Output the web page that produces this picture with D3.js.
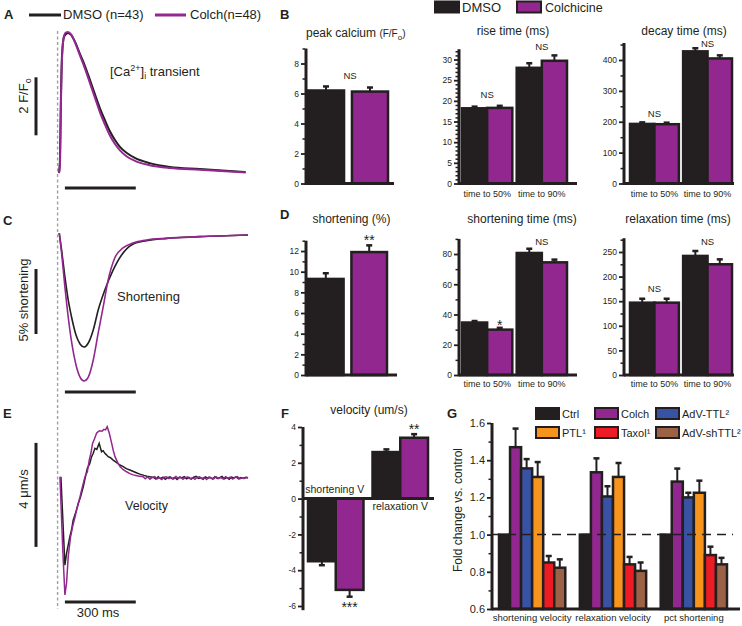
<!DOCTYPE html>
<html>
<head>
<meta charset="utf-8">
<script src="https://cdn.jsdelivr.net/npm/d3@7/dist/d3.min.js"></script>
<style>
html,body{margin:0;padding:0;background:#fff;}
svg{display:block;}
</style>
</head>
<body>
<svg id="chart" width="742" height="626"></svg>
<script>
// ================= DATA =================
// Traces: [time (ms), value]
const caDMSO = [[0,1.00],[4,1.45],[8,3.55],[13,5.10],[21,5.69],[30,5.79],[38,5.83],[51,5.76],[68,5.52],[89,5.10],[110,4.69],[131,4.21],[152,3.72],[173,3.24],[194,2.83],[215,2.45],[237,2.14],[258,1.90],[287,1.69],[321,1.52],[384,1.34],[469,1.21],[596,1.14],[790,1.03]];
const caColch = [[0,1.00],[4,1.30],[8,3.30],[13,5.00],[21,5.72],[30,5.85],[38,5.86],[51,5.78],[68,5.50],[89,5.05],[110,4.60],[131,4.10],[152,3.60],[173,3.10],[194,2.68],[215,2.30],[237,2.00],[258,1.78],[287,1.57],[321,1.42],[384,1.27],[469,1.17],[596,1.11],[790,1.02]];
const shortDMSO = [[1,0],[11,-1.31],[25,-3.38],[39,-5.15],[54,-6.54],[72,-7.85],[89,-8.54],[106,-8.77],[124,-8.46],[145,-7.46],[166,-5.92],[194,-4.38],[229,-2.85],[265,-1.69],[307,-0.92],[370,-0.59],[455,-0.41],[595,-0.28],[800,-0.15]];
const shortColch = [[1,0],[11,-1.54],[25,-4.15],[39,-6.46],[54,-8.46],[72,-10.15],[89,-11.08],[106,-11.38],[124,-11.08],[145,-9.77],[166,-7.69],[187,-5.69],[208,-3.62],[236,-1.92],[271,-1.15],[313,-0.77],[370,-0.54],[455,-0.41],[595,-0.28],[800,-0.15]];
const velDMSOTrace = [[8,0.05],[25,-3.35],[32,-2.90],[46,-2.26],[53,-2.0],[60,-1.62],[70,-1.35],[82,-0.97],[92,-0.70],[103,-0.33],[112,0.05],[120,0.37],[130,0.55],[138,0.82],[145,0.95],[152,1.14],[160,1.10],[170,1.33],[180,1.01],[187,1.05],[194,0.95],[200,0.90],[208,0.82],[218,0.78],[229,0.69],[240,0.62],[258,0.50],[270,0.45],[285,0.36],[300,0.31],[315,0.25],[330,0.19],[342,0.15],[360,0.10],[372,0.07],[384,0.05],[400,0.02],[410,-0.04],[420,0.05],[430,-0.02],[440,0.03],[450,-0.05],[460,0.01],[470,0.04],[480,-0.03],[490,0.02],[500,-0.06],[510,0.03],[520,0.00],[530,0.05],[540,-0.03],[550,0.02],[560,-0.04],[570,0.03],[580,0.06],[590,-0.02],[600,0.01],[610,-0.05],[620,0.04],[630,-0.01],[640,0.02],[650,-0.04],[660,0.05],[670,-0.02],[680,0.01],[690,0.06],[700,-0.03],[710,0.02],[720,-0.05],[730,0.03],[740,0.00],[750,0.04],[760,-0.03],[770,0.02],[780,-0.02],[790,0.03],[800,0.00]];
const velColchTrace = [[4,0.05],[16,-2.77],[25,-4.50],[32,-4.04],[39,-3.03],[49,-2.26],[58,-1.85],[68,-1.49],[78,-1.10],[89,-0.72],[100,-0.30],[110,0.05],[120,0.24],[128,0.69],[135,0.95],[142,1.33],[150,1.50],[159,1.72],[166,1.78],[173,1.82],[182,1.80],[190,1.87],[197,1.85],[204,1.97],[213,1.72],[223,1.33],[230,1.05],[237,0.82],[248,0.60],[258,0.44],[272,0.32],[286,0.24],[300,0.17],[314,0.12],[335,0.08],[356,0.05],[365,-0.03],[375,0.04],[385,-0.05],[395,0.02],[405,0.05],[415,-0.03],[425,0.01],[435,-0.06],[445,0.03],[455,0.05],[465,-0.02],[475,0.02],[485,-0.04],[495,0.06],[505,-0.01],[515,0.03],[525,-0.05],[535,0.02],[545,0.04],[555,-0.03],[565,0.01],[575,-0.05],[585,0.03],[595,0.05],[605,-0.02],[615,0.02],[625,-0.06],[635,0.04],[645,0.00],[655,-0.03],[665,0.05],[675,-0.02],[685,0.02],[695,-0.04],[705,0.05],[715,-0.01],[725,0.03],[735,-0.04],[745,0.02],[755,0.05],[765,-0.03],[775,0.01],[785,-0.02],[795,0.03],[800,0.01]];

// Bar charts: two conditions
const conditions = ["DMSO", "Colchicine"];
const timeGroups = ["time to 50%", "time to 90%"];
const peakCa = [6.2, 6.13];
const peakCaErr = [0.27, 0.27];
const riseDMSO = [18.2, 28.0], riseDMSOErr = [0.4, 1.1];
const riseColch = [18.3, 29.7], riseColchErr = [0.5, 1.3];
const decayDMSO = [193, 428], decayDMSOErr = [5, 10];
const decayColch = [192, 405], decayColchErr = [5, 10];
const shortPct = [9.3, 11.9];
const shortPctErr = [0.55, 0.65];
const shortTimeDMSO = [34.7, 80.7], shortTimeDMSOErr = [1.0, 2.8];
const shortTimeColch = [30.0, 74.5], shortTimeColchErr = [1.2, 1.8];
const relaxTimeDMSO = [147, 242], relaxTimeDMSOErr = [8, 10];
const relaxTimeColch = [147, 225], relaxTimeColchErr = [8, 10];
const velGroups = ["shortening V", "relaxation V"];
const velDMSO = [-3.5, 2.6], velDMSOErr = [0.22, 0.15];
const velColch = [-5.1, 3.4], velColchErr = [0.38, 0.2];

// Fold-change chart
const foldCats = ["shortening velocity", "relaxation velocity", "pct shortening"];
const foldSeries = ["Ctrl", "Colch", "AdV-TTL²", "PTL¹", "Taxol¹", "AdV-shTTL²"];
const foldVals = {
  "Ctrl":       [1.0, 1.0, 1.0],
  "Colch":      [1.47, 1.335, 1.285],
  "AdV-TTL²":   [1.356, 1.205, 1.20],
  "PTL¹":       [1.31, 1.31, 1.225],
  "Taxol¹":     [0.85, 0.84, 0.89],
  "AdV-shTTL²": [0.822, 0.805, 0.84]
};
const foldErrs = {
  "Ctrl":       [0, 0, 0],
  "Colch":      [0.10, 0.075, 0.07],
  "AdV-TTL²":   [0.05, 0.055, 0.025],
  "PTL¹":       [0.08, 0.075, 0.065],
  "Taxol¹":     [0.035, 0.04, 0.045],
  "AdV-shTTL²": [0.045, 0.045, 0.035]
};
const foldColors = ["#231f20", "#92278f", "#3953a4", "#f7941d", "#ed1c24", "#9c6246"];

// ================= DRAWING =================
const FONT = "'Liberation Sans', Arial, Helvetica, sans-serif";
const BLACK = "#231f20", PURPLE = "#92278f";
const svg = d3.select("#chart");
svg.append("rect").attr("width", 742).attr("height", 626).attr("fill", "#fff");

function txt(g, x, y, s, o = {}) {
  const t = g.append("text").attr("x", x).attr("y", y).text(s)
    .attr("font-family", FONT).attr("font-size", o.size || 12).attr("fill", BLACK)
    .attr("text-anchor", o.anchor || "start");
  if (o.bold) t.attr("font-weight", "bold");
  return t;
}
const plainFmt = d => String(d);

// Panel letters
[["A",4,19],["B",280,19],["C",3,225],["D",280,219],["E",3,418],["F",281,418],["G",447,418]].forEach(([l,x,y]) => txt(svg, x, y, l, {size: 13, bold: true}));

// ---------- Traces ----------
const xT = d3.scaleLinear().domain([0, 800]).range([59, 248]);
const yCa = d3.scaleLinear().domain([1, 6]).range([173, 28]);
const yS = d3.scaleLinear().domain([0, -12]).range([233, 389]);
const yV = d3.scaleLinear().domain([0, -5]).range([478, 608]);
const lineOf = (y, curve) => d3.line().x(d => xT(d[0])).y(d => y(d[1])).curve(curve);

svg.append("line").attr("x1", xT(-6)).attr("x2", xT(-6)).attr("y1", 31).attr("y2", 609)
  .attr("stroke", "#a0a0a0").attr("stroke-width", 1.4).attr("stroke-dasharray", "3,2.5");

const traceG = svg.append("g").attr("fill", "none");
traceG.append("path").attr("d", lineOf(yCa, d3.curveMonotoneX)(caDMSO)).attr("stroke", BLACK).attr("stroke-width", 2);
traceG.append("path").attr("d", lineOf(yCa, d3.curveMonotoneX)(caColch)).attr("stroke", PURPLE).attr("stroke-width", 2);
traceG.append("path").attr("d", lineOf(yS, d3.curveMonotoneX)(shortDMSO)).attr("stroke", BLACK).attr("stroke-width", 1.6);
traceG.append("path").attr("d", lineOf(yS, d3.curveMonotoneX)(shortColch)).attr("stroke", PURPLE).attr("stroke-width", 1.6);
traceG.append("path").attr("d", lineOf(yV, d3.curveLinear)(velDMSOTrace)).attr("stroke", BLACK).attr("stroke-width", 1.5);
traceG.append("path").attr("d", lineOf(yV, d3.curveLinear)(velColchTrace)).attr("stroke", PURPLE).attr("stroke-width", 1.5);

// scale bars
const sb = svg.append("g").attr("stroke", BLACK).attr("stroke-width", 3);
sb.append("line").attr("x1", 36).attr("x2", 36).attr("y1", yCa(4.3)).attr("y2", yCa(2.3));
sb.append("line").attr("x1", 36).attr("x2", 36).attr("y1", yS(-2.77)).attr("y2", yS(-7.77));
sb.append("line").attr("x1", 36).attr("x2", 36).attr("y1", yV(1.35)).attr("y2", yV(-2.65));
[188, 392, 602].forEach(yy => sb.append("line").attr("x1", xT(25)).attr("x2", xT(325)).attr("y1", yy).attr("y2", yy));

// scale bar labels
const l1 = txt(svg, 0, 0, "2 F/F", {size: 13, anchor: "middle"}).attr("transform", "translate(28,96) rotate(-90)");
l1.append("tspan").attr("font-size", 9).attr("dy", 3).text("o");
txt(svg, 0, 0, "5% shortening", {size: 13, anchor: "middle"}).attr("transform", "translate(28,300) rotate(-90)");
txt(svg, 0, 0, "4 μm/s", {size: 13, anchor: "middle"}).attr("transform", "translate(28,489) rotate(-90)");
txt(svg, 98, 617, "300 ms", {size: 13, anchor: "middle"});

// trace annotations
const ct = txt(svg, 110, 76, "[Ca", {size: 13});
ct.append("tspan").attr("font-size", 9).attr("dy", -5).text("2+");
ct.append("tspan").attr("dy", 5).text("]");
ct.append("tspan").attr("font-size", 9).attr("dy", 3).text("i");
ct.append("tspan").attr("dy", -3).text(" transient");
txt(svg, 117, 301, "Shortening", {size: 13});
txt(svg, 125, 510, "Velocity", {size: 12.5});

// top legend
svg.append("line").attr("x1", 29).attr("x2", 61).attr("y1", 15).attr("y2", 15).attr("stroke", BLACK).attr("stroke-width", 3);
txt(svg, 63, 19, "DMSO (n=43)", {size: 13});
svg.append("line").attr("x1", 155).attr("x2", 186).attr("y1", 15).attr("y2", 15).attr("stroke", PURPLE).attr("stroke-width", 3);
txt(svg, 190, 19, "Colch(n=48)", {size: 13});

// bar legend
svg.append("rect").attr("x", 435).attr("y", 1.5).attr("width", 24).attr("height", 11).attr("fill", BLACK).attr("stroke", BLACK).attr("stroke-width", 2);
txt(svg, 462, 12, "DMSO", {size: 13});
svg.append("rect").attr("x", 517).attr("y", 1.5).attr("width", 24).attr("height", 11).attr("fill", PURPLE).attr("stroke", BLACK).attr("stroke-width", 2);
txt(svg, 545, 12, "Colchicine", {size: 12.5});

// ---------- Helpers ----------
function drawYAxis(y, x, major, minor, fs, fmt, lo, hi) {
  const g = svg.append("g");
  const ga = g.append("g").attr("transform", `translate(${x - 1},0)`)
    .call(d3.axisLeft(y).tickValues(major).tickSize(4).tickPadding(2).tickFormat(fmt || plainFmt))
    .attr("font-family", FONT).attr("font-size", fs);
  ga.select(".domain").remove();
  ga.selectAll(".tick line").attr("stroke", BLACK).attr("stroke-width", 1.8);
  ga.selectAll(".tick text").attr("fill", BLACK);
  if (minor) {
    const gm = g.append("g").attr("transform", `translate(${x - 1},0)`)
      .call(d3.axisLeft(y).tickValues(minor).tickSize(2.5).tickFormat(""));
    gm.select(".domain").remove();
    gm.selectAll(".tick line").attr("stroke", BLACK).attr("stroke-width", 1.5);
  }
  const d = y.domain();
  g.append("line").attr("x1", x).attr("x2", x).attr("y1", y(lo !== undefined ? lo : d[0]) + 1.5)
    .attr("y2", y(hi !== undefined ? hi : d[1])).attr("stroke", BLACK).attr("stroke-width", 3);
}
function drawBar(g, x, w, v, e, fill, y, base) {
  const y0 = y(base), y1 = y(v);
  g.append("rect").attr("x", x).attr("y", Math.min(y0, y1)).attr("width", w).attr("height", Math.abs(y0 - y1))
    .attr("fill", fill).attr("stroke", BLACK).attr("stroke-width", 2.5);
  if (e) {
    const ye = y(v + (v >= base ? e : -e)), cx = x + w / 2;
    g.append("line").attr("x1", cx).attr("x2", cx).attr("y1", y1).attr("y2", ye).attr("stroke", BLACK).attr("stroke-width", 2);
    g.append("line").attr("x1", cx - 3).attr("x2", cx + 3).attr("y1", ye).attr("y2", ye).attr("stroke", BLACK).attr("stroke-width", 2.5);
  }
}
function baseLine(x1, x2, yy) {
  svg.append("line").attr("x1", x1).attr("x2", x2).attr("y1", yy).attr("y2", yy).attr("stroke", BLACK).attr("stroke-width", 3);
}
function singleChart(cfg) {
  const xb = d3.scaleBand().domain(conditions).range(cfg.range).paddingInner(0.18);
  const g = svg.append("g");
  conditions.forEach((c, i) => drawBar(g, xb(c), xb.bandwidth(), cfg.vals[i], cfg.errs[i], [BLACK, PURPLE][i], cfg.y, 0));
  drawYAxis(cfg.y, cfg.axisX, cfg.major, cfg.minor, 8.5);
  baseLine(cfg.axisX, cfg.axisEnd, cfg.y(0));
  return xb;
}
function groupedChart(cfg) {
  const xg = d3.scaleBand().domain(cfg.groups).range(cfg.range).paddingInner(cfg.padIn || 0.08);
  const xs = d3.scaleBand().domain(conditions).range([0, xg.bandwidth()]);
  const g = svg.append("g");
  cfg.groups.forEach((grp, i) => {
    drawBar(g, xg(grp) + xs("DMSO"), xs.bandwidth(), cfg.dmso[i], cfg.dmsoErr[i], BLACK, cfg.y, 0);
    drawBar(g, xg(grp) + xs("Colchicine"), xs.bandwidth(), cfg.colch[i], cfg.colchErr[i], PURPLE, cfg.y, 0);
  });
  drawYAxis(cfg.y, cfg.axisX, cfg.major, cfg.minor, cfg.fs || 8.5, null, cfg.lo, cfg.hi);
  baseLine(cfg.axisX, cfg.axisEnd, cfg.y(0));
  if (cfg.labelY) cfg.groups.forEach(grp => txt(svg, xg(grp) + xg.bandwidth() / 2, cfg.labelY, grp, {size: 9, anchor: "middle"}));
  return {xg, xs};
}
const rng = (a, b, s) => d3.range(a, b + s / 2, s);

// ---------- Panel B ----------
const yPeak = d3.scaleLinear().domain([0, 9]).range([183.5, 48.5]);
const xbPeak = singleChart({vals: peakCa, errs: peakCaErr, y: yPeak, range: [308, 388], axisX: 306, axisEnd: 394, major: rng(0, 8, 2), minor: rng(1, 9, 2)});
txt(svg, (xbPeak.range()[0] + xbPeak.range()[1]) / 2 + 2, yPeak(7.0), "NS", {size: 9.5, anchor: "middle"});
const tp = txt(svg, 306, 37, "peak calcium ", {size: 12});
tp.append("tspan").attr("font-size", 10).text("(F/F");
tp.append("tspan").attr("font-size", 8).attr("dy", 3).text("o");
tp.append("tspan").attr("font-size", 10).attr("dy", -3).text(")");

const yRise = d3.scaleLinear().domain([0, 32.5]).range([183.5, 49.2]);
const rise = groupedChart({groups: timeGroups, dmso: riseDMSO, dmsoErr: riseDMSOErr, colch: riseColch, colchErr: riseColchErr,
  y: yRise, range: [462, 567], axisX: 459, axisEnd: 577, major: rng(0, 30, 5), minor: rng(1, 32, 1).filter(v => v % 5), labelY: 197});
txt(svg, 513, 35, "rise time (ms)", {size: 12, anchor: "middle"});
[[0, 20.6], [1, 32.4]].forEach(([i, v]) => txt(svg, rise.xg(timeGroups[i]) + rise.xg.bandwidth() / 2, yRise(v), "NS", {size: 9.5, anchor: "middle"}));

const yDecay = d3.scaleLinear().domain([0, 455]).range([183.5, 43]);
const decay = groupedChart({groups: timeGroups, dmso: decayDMSO, dmsoErr: decayDMSOErr, colch: decayColch, colchErr: decayColchErr,
  y: yDecay, range: [630, 732], axisX: 624, axisEnd: 734, major: rng(0, 400, 100), minor: rng(50, 450, 100), labelY: 197});
txt(svg, 684, 35, "decay time (ms)", {size: 12, anchor: "middle"});
[[0, 216], [1, 443]].forEach(([i, v]) => txt(svg, decay.xg(timeGroups[i]) + decay.xg.bandwidth() / 2, yDecay(v), "NS", {size: 9.5, anchor: "middle"}));

// ---------- Panel D ----------
const yShort = d3.scaleLinear().domain([0, 13]).range([375, 240.7]);
const xbShort = singleChart({vals: shortPct, errs: shortPctErr, y: yShort, range: [308, 387], axisX: 306, axisEnd: 397, major: rng(0, 12, 2), minor: rng(1, 13, 2)});
txt(svg, 351.5, 223, "shortening (%)", {size: 12, anchor: "middle"});
txt(svg, xbShort("Colchicine") + xbShort.bandwidth() / 2, yShort(12.6), "**", {size: 14, anchor: "middle"});

const yST = d3.scaleLinear().domain([0, 90]).range([375, 238.9]);
const st = groupedChart({groups: timeGroups, dmso: shortTimeDMSO, dmsoErr: shortTimeDMSOErr, colch: shortTimeColch, colchErr: shortTimeColchErr,
  y: yST, range: [462, 567], axisX: 459, axisEnd: 577, major: rng(0, 80, 20), minor: rng(10, 90, 20), labelY: 387});
txt(svg, 522, 223, "shortening time (ms)", {size: 12, anchor: "middle"});
txt(svg, st.xg(timeGroups[0]) + st.xs("Colchicine") + st.xs.bandwidth() / 2, yST(29.5), "*", {size: 14, anchor: "middle"});
txt(svg, st.xg(timeGroups[1]) + st.xg.bandwidth() / 2, yST(86), "NS", {size: 9.5, anchor: "middle"});

const yRT = d3.scaleLinear().domain([0, 278]).range([375, 238.2]);
const rt = groupedChart({groups: timeGroups, dmso: relaxTimeDMSO, dmsoErr: relaxTimeDMSOErr, colch: relaxTimeColch, colchErr: relaxTimeColchErr,
  y: yRT, range: [630, 732], axisX: 624, axisEnd: 734, major: rng(0, 250, 50), minor: rng(25, 275, 50), labelY: 387});
txt(svg, 678, 223, "relaxation time (ms)", {size: 12, anchor: "middle"});
[[0, 168], [1, 264]].forEach(([i, v]) => txt(svg, rt.xg(timeGroups[i]) + rt.xg.bandwidth() / 2, yRT(v), "NS", {size: 9.5, anchor: "middle"}));

// ---------- Panel F ----------
const yVel = d3.scaleLinear().domain([-6, 4]).range([606, 427]);
const vel = groupedChart({groups: velGroups, dmso: velDMSO, dmsoErr: velDMSOErr, colch: velColch, colchErr: velColchErr,
  y: yVel, range: [308, 428], padIn: 0.14, axisX: 303, axisEnd: 434, major: rng(-6, 4, 2), minor: rng(-5, 3, 2), lo: -6.15, hi: 4});
txt(svg, 369, 414, "velocity (um/s)", {size: 12, anchor: "middle"});
txt(svg, vel.xg(velGroups[0]) + vel.xg.bandwidth() / 2 - 1, 493, velGroups[0], {size: 10.5, anchor: "middle"});
txt(svg, vel.xg(velGroups[1]) + vel.xg.bandwidth() / 2, 510, velGroups[1], {size: 10.5, anchor: "middle"});
txt(svg, vel.xg(velGroups[1]) + vel.xs("Colchicine") + vel.xs.bandwidth() / 2, yVel(3.63), "**", {size: 14, anchor: "middle"});
txt(svg, vel.xg(velGroups[0]) + vel.xs("Colchicine") + vel.xs.bandwidth() / 2, yVel(-6.31), "***", {size: 14, anchor: "middle"});

// ---------- Panel G ----------
const yFold = d3.scaleLinear().domain([0.6, 1.6]).range([609, 423]);
const xFold = d3.scaleBand().domain(foldCats).range([499, 727]).paddingInner(0.18);
const xFoldIn = d3.scaleBand().domain(foldSeries).range([0, xFold.bandwidth()]);
const gG = svg.append("g");
foldCats.forEach((c, i) => foldSeries.forEach((s, j) =>
  drawBar(gG, xFold(c) + xFoldIn(s), xFoldIn.bandwidth(), foldVals[s][i], foldErrs[s][i], foldColors[j], yFold, 0.6)));
svg.append("line").attr("x1", 492).attr("x2", 733).attr("y1", yFold(1.0)).attr("y2", yFold(1.0))
  .attr("stroke", BLACK).attr("stroke-width", 1.5).attr("stroke-dasharray", "9,6");
drawYAxis(yFold, 492, rng(0.6, 1.6, 0.2), rng(0.7, 1.5, 0.2), 11, d3.format(".1f"));
baseLine(492, 740, yFold(0.6));
foldCats.forEach(c => txt(svg, xFold(c) + xFold.bandwidth() / 2, 621, c, {size: 9.5, anchor: "middle"}));
txt(svg, 0, 0, "Fold change vs. control", {size: 12, anchor: "middle"}).attr("transform", "translate(462,510) rotate(-90)");
// legend G
const legCols = [536, 595, 656], legRows = [408, 427];
foldSeries.forEach((s, j) => {
  const col = j % 3, row = Math.floor(j / 3);
  const x = legCols[col], y = legRows[row];
  svg.append("rect").attr("x", x).attr("y", y).attr("width", 23).attr("height", 11)
    .attr("fill", foldColors[j]).attr("stroke", BLACK).attr("stroke-width", 2);
  txt(svg, x + 26, y + 10, s, {size: 11});
});
</script>
</body>
</html>
